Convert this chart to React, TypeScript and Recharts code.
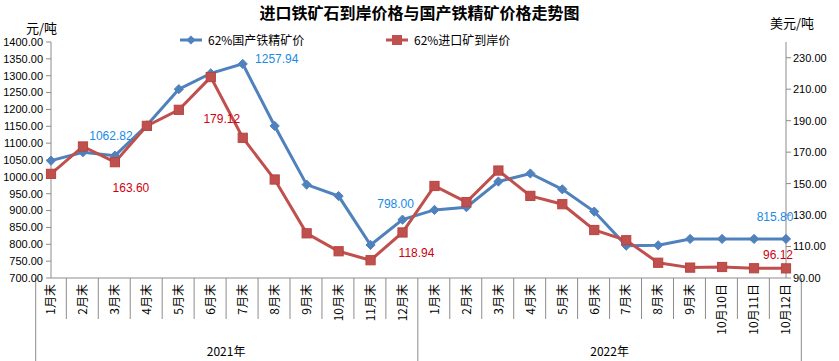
import React from 'react';
import { ComposedChart, Line, XAxis, YAxis, LabelList } from 'recharts';

const CATEGORIES = [
  '1月末', '2月末', '3月末', '4月末', '5月末', '6月末', '7月末', '8月末', '9月末', '10月末', '11月末', '12月末',
  '1月末', '2月末', '3月末', '4月末', '5月末', '6月末', '7月末', '8月末', '9月末', '10月10日', '10月11日', '10月12日',
];
const YEAR_GROUPS = ['2021年', '2022年'];
const GROUP_SIZE = 12;

const DOMESTIC = [1048, 1073, 1063, 1153, 1260, 1307, 1335, 1151, 977, 943, 798, 873, 902, 910, 986, 1010, 963, 897, 796, 797, 815.8, 815.8, 815.8, 815.8];
const IMPORTED = [156.2, 173.6, 163.6, 186.7, 196.9, 217.7, 179.12, 152.6, 118.4, 107, 101.3, 118.94, 148.5, 138.2, 158.3, 142.2, 136.9, 120.5, 114, 99.7, 96.6, 97, 96.2, 96.12];

const LEFT_TICKS = [700, 750, 800, 850, 900, 950, 1000, 1050, 1100, 1150, 1200, 1250, 1300, 1350, 1400];
const RIGHT_TICKS = [90, 110, 130, 150, 170, 190, 210, 230];

const DOMESTIC_NAME = '62%国产铁精矿价';
const IMPORTED_NAME = '62%进口矿到岸价';
const TITLE = '进口铁矿石到岸价格与国产铁精矿价格走势图';
const LEFT_UNIT = '元/吨';
const RIGHT_UNIT = '美元/吨';

// data-label texts by point index
const DOMESTIC_LABELS: Record<number, string> = { 2: '1062.82', 6: '1257.94', 10: '798.00', 23: '815.80' };
const IMPORTED_LABELS: Record<number, string> = { 2: '163.60', 6: '179.12', 11: '118.94', 23: '96.12' };

const data = CATEGORIES.map((c, i) => ({ cat: `${i}`, label: c, domestic: DOMESTIC[i], imported: IMPORTED[i] }));

const W = 839;
const H = 361;
const PLOT_LEFT = 51;
const PLOT_RIGHT = 786;
const BAND = (PLOT_RIGHT - PLOT_LEFT) / CATEGORIES.length;
const AXIS_GRAY = '#8c8c8c';
const BLUE = '#4F81BD';
const RED = '#C0504D';
const BLUE_TEXT = '#1A8AE6';
const RED_TEXT = '#D00010';
const FONT = '"Liberation Sans", Arial, "Noto Sans CJK SC", sans-serif';
const CJK = '"Noto Sans CJK SC", "Liberation Sans", sans-serif';

const DOM_OFFSETS: Record<number, [number, number]> = { 2: [-4, -16], 6: [34, -1], 10: [25, -37], 23: [-11, -18] };
const IMP_OFFSETS: Record<number, [number, number]> = { 2: [16, 30], 6: [-21, -15], 11: [14, 25], 23: [-8, -9] };

function MonthTick(props: any) {
  const { x, y, payload } = props;
  const i = payload.index as number;
  const label = CATEGORIES[i];
  const half = BAND / 2;
  const right = x + half;
  const isGroupEnd = (i + 1) % GROUP_SIZE === 0;
  const groupCenter = i % GROUP_SIZE === GROUP_SIZE / 2 - 1;
  return (
    <g>
      <text
        x={0}
        y={0}
        transform={`translate(${x + 1},${y + 6}) rotate(-90)`}
        textAnchor="end"
        dominantBaseline="middle"
        fontSize={12}
        fontFamily={CJK}
        fill="#000"
      >
        {label}
      </text>
      {i === 0 && <line x1={x - half} x2={x - half} y1={y} y2={H} stroke={AXIS_GRAY} strokeWidth={1} />}
      <line x1={right} x2={right} y1={y} y2={isGroupEnd ? H : y + 41} stroke={AXIS_GRAY} strokeWidth={1} />
      {groupCenter && (
        <text x={right} y={y + 78} textAnchor="middle" fontSize={12} fontFamily={CJK} fill="#000">
          {YEAR_GROUPS[Math.floor(i / GROUP_SIZE)]}
        </text>
      )}
    </g>
  );
}

function Diamond(props: any) {
  const { cx, cy } = props;
  if (cx == null || cy == null) return null;
  const r = 4.6;
  return <polygon points={`${cx},${cy - r} ${cx + r},${cy} ${cx},${cy + r} ${cx - r},${cy}`} fill={BLUE} stroke={BLUE} strokeWidth={1} />;
}

function Square(props: any) {
  const { cx, cy } = props;
  if (cx == null || cy == null) return null;
  const r = 4.6;
  return <rect x={cx - r} y={cy - r} width={2 * r} height={2 * r} fill={RED} stroke="#B8433F" strokeWidth={1} />;
}

function makeLabel(texts: Record<number, string>, offsets: Record<number, [number, number]>, color: string) {
  return (props: any) => {
    const { x, y, index } = props;
    const t = texts[index];
    if (!t) return null;
    const [dx, dy] = offsets[index];
    return (
      <text x={x + dx} y={y + dy} textAnchor="middle" fontSize={12} fontFamily={FONT} fill={color}>
        {t}
      </text>
    );
  };
}

function LegendBlock() {
  const item = (left: number, color: string, marker: 'diamond' | 'square', text: string) => (
    <div style={{ position: 'absolute', left, top: 0, display: 'flex', alignItems: 'center', height: 16 }}>
      <svg width={24} height={16}>
        <line x1={0} x2={22} y1={8} y2={8} stroke={color} strokeWidth={3} />
        {marker === 'diamond' ? (
          <polygon points="11,3.4 15.6,8 11,12.6 6.4,8" fill={color} />
        ) : (
          <rect x={6} y={3} width={10} height={10} fill={color} />
        )}
      </svg>
      <span style={{ fontFamily: CJK, fontSize: 12, color: '#000', marginLeft: 4, whiteSpace: 'nowrap', lineHeight: '16px' }}>{text}</span>
    </div>
  );
  return (
    <div style={{ position: 'absolute', left: 0, top: 32, width: W, height: 16 }}>
      {item(180, BLUE, 'diamond', DOMESTIC_NAME)}
      {item(386, RED, 'square', IMPORTED_NAME)}
    </div>
  );
}

export default function App() {
  return (
    <div style={{ position: 'absolute', left: 0, top: 0, width: W, height: H, background: '#fff' }}>
      <ComposedChart
        width={W}
        height={H}
        data={data}
        margin={{ top: 42, right: 0, bottom: 0, left: 0 }}
        style={{ position: 'absolute', left: 0, top: 0 }}
      >
        <XAxis
          dataKey="cat"
          xAxisId="x"
          height={83}
          interval={0}
          tickLine={false}
          tickSize={0}
          tickMargin={0}
          axisLine={{ stroke: AXIS_GRAY }}
          tick={<MonthTick />}
        />
        <YAxis
          yAxisId="left"
          orientation="left"
          width={51}
          domain={[700, 1400]}
          ticks={LEFT_TICKS}
          interval={0}
          allowDataOverflow
          tickFormatter={(v: number) => v.toFixed(2)}
          axisLine={{ stroke: AXIS_GRAY }}
          tickLine={{ stroke: AXIS_GRAY }}
          tickSize={5}
          tickMargin={3}
          tick={{ fontSize: 11, fontFamily: FONT, fill: '#000' }}
        />
        <YAxis
          yAxisId="right"
          orientation="right"
          width={53}
          domain={[90, 240]}
          ticks={RIGHT_TICKS}
          interval={0}
          allowDataOverflow
          tickFormatter={(v: number) => v.toFixed(2)}
          axisLine={{ stroke: AXIS_GRAY }}
          tickLine={{ stroke: AXIS_GRAY }}
          tickSize={5}
          tickMargin={2}
          tick={{ fontSize: 11, fontFamily: FONT, fill: '#000' }}
        />
        <Line
          xAxisId="x"
          yAxisId="left"
          type="linear"
          dataKey="domestic"
          name={DOMESTIC_NAME}
          stroke={BLUE}
          strokeWidth={3}
          dot={<Diamond />}
          activeDot={false}
          isAnimationActive={false}
        >
          <LabelList dataKey="domestic" content={makeLabel(DOMESTIC_LABELS, DOM_OFFSETS, BLUE_TEXT)} />
        </Line>
        <Line
          xAxisId="x"
          yAxisId="right"
          type="linear"
          dataKey="imported"
          name={IMPORTED_NAME}
          stroke={RED}
          strokeWidth={3}
          dot={<Square />}
          activeDot={false}
          isAnimationActive={false}
        >
          <LabelList dataKey="imported" content={makeLabel(IMPORTED_LABELS, IMP_OFFSETS, RED_TEXT)} />
        </Line>
      </ComposedChart>
      <div
        style={{
          position: 'absolute', left: 0, top: 0, width: W, textAlign: 'center',
          fontFamily: CJK, fontWeight: 700, fontSize: 16, lineHeight: 'normal', color: '#000',
        }}
      >
        {TITLE}
      </div>
      <div style={{ position: 'absolute', left: 26, top: 20, fontFamily: CJK, fontSize: 13, lineHeight: '16px', color: '#000' }}>{LEFT_UNIT}</div>
      <div style={{ position: 'absolute', left: 770, top: 15, fontFamily: CJK, fontSize: 13, lineHeight: '16px', color: '#000' }}>{RIGHT_UNIT}</div>
      <LegendBlock />
    </div>
  );
}
